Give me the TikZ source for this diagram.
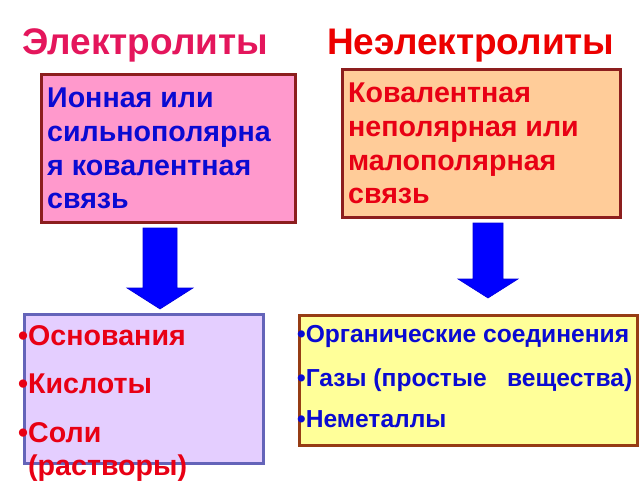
\documentclass[tikz,border=0pt]{standalone}
\usepackage{fontspec}
\setmainfont{Liberation Sans}
\usetikzlibrary{positioning}

\definecolor{titlepink}{RGB}{228,22,92}
\definecolor{titlered}{RGB}{236,0,0}
\definecolor{textblue}{RGB}{10,10,210}
\definecolor{textred}{RGB}{232,0,20}
\definecolor{pinkfill}{RGB}{255,153,204}
\definecolor{orangefill}{RGB}{255,204,153}
\definecolor{lilacfill}{RGB}{228,206,255}
\definecolor{yellowfill}{RGB}{255,255,153}
\definecolor{maroonline}{RGB}{140,30,30}
\definecolor{slateline}{RGB}{100,100,185}
\definecolor{brownline}{RGB}{150,60,20}

\begin{document}
\begin{tikzpicture}[x=1pt,y=-1pt,
      mytitle/.style={
         anchor=base west,
         inner sep=0pt,
         font=\fontsize{37}{40}\selectfont\bfseries},
      mybox/.style={
         rectangle,
         anchor=north west,
         line width=2.5pt,
         inner sep=0pt},
      mytext/.style={
         anchor=base west,
         inner sep=0pt,
         font=\fontsize{28.6}{34}\selectfont\bfseries},
      smalltext/.style={
         mytext,
         font=\fontsize{24.6}{30}\selectfont\bfseries},
      blockarrow/.style={fill=blue, draw=blue!85!black, line width=0.6pt}
      ]
      \useasboundingbox (0,0) rectangle (640,480);
      % titles
      \node[mytitle,text=titlepink] (t1) at (22,54) {Электролиты};
      \node[mytitle,text=titlered] (t2) at (327,54) {Неэлектролиты};
      % boxes
      \node[mybox,fill=pinkfill,draw=maroonline,minimum width=254,minimum height=148] (ion) at (40,73) {};
      \node[mybox,fill=orangefill,draw=maroonline,minimum width=278,minimum height=148] (cov) at (341,68) {};
      \node[mybox,fill=lilacfill,draw=slateline,minimum width=239,minimum height=149] (el) at (23,313) {};
      \node[mybox,fill=yellowfill,draw=brownline,minimum width=338,minimum height=130] (nel) at (298,314) {};
      % box texts
      \foreach \txt/\y in {Ионная или/107, сильнополярна/141, я ковалентная/175, связь/208}
         \node[mytext,text=textblue] at (47,\y) {\txt};
      \foreach \txt/\y in {Ковалентная/102, неполярная или/136, малополярная/170, связь/203}
         \node[mytext,text=textred] at (348,\y) {\txt};
      \foreach \txt/\y in {•Основания/345, •Кислоты/393, •Соли/442, \phantom{•}(растворы)/475}
         \node[mytext,text=textred] at (18,\y) {\txt};
      \foreach \txt/\y in {•Органические соединения/342, •Газы (простые\ \ \ вещества)/386, •Неметаллы/427}
         \node[smalltext,text=textblue] at (297,\y) {\txt};
      % arrows
      \coordinate (a1) at (160,228);
      \coordinate (a2) at (488,223);
      \fill[blockarrow,shift={(a1)}] (-17,0) -- (17,0) -- (17,60) -- (33,60) -- (0,81) -- (-33,60) -- (-17,60) -- cycle;
      \fill[blockarrow,shift={(a2)}] (-15,0) -- (15,0) -- (15,56) -- (30,56) -- (0,75) -- (-30,56) -- (-15,56) -- cycle;
\end{tikzpicture}
\end{document}
